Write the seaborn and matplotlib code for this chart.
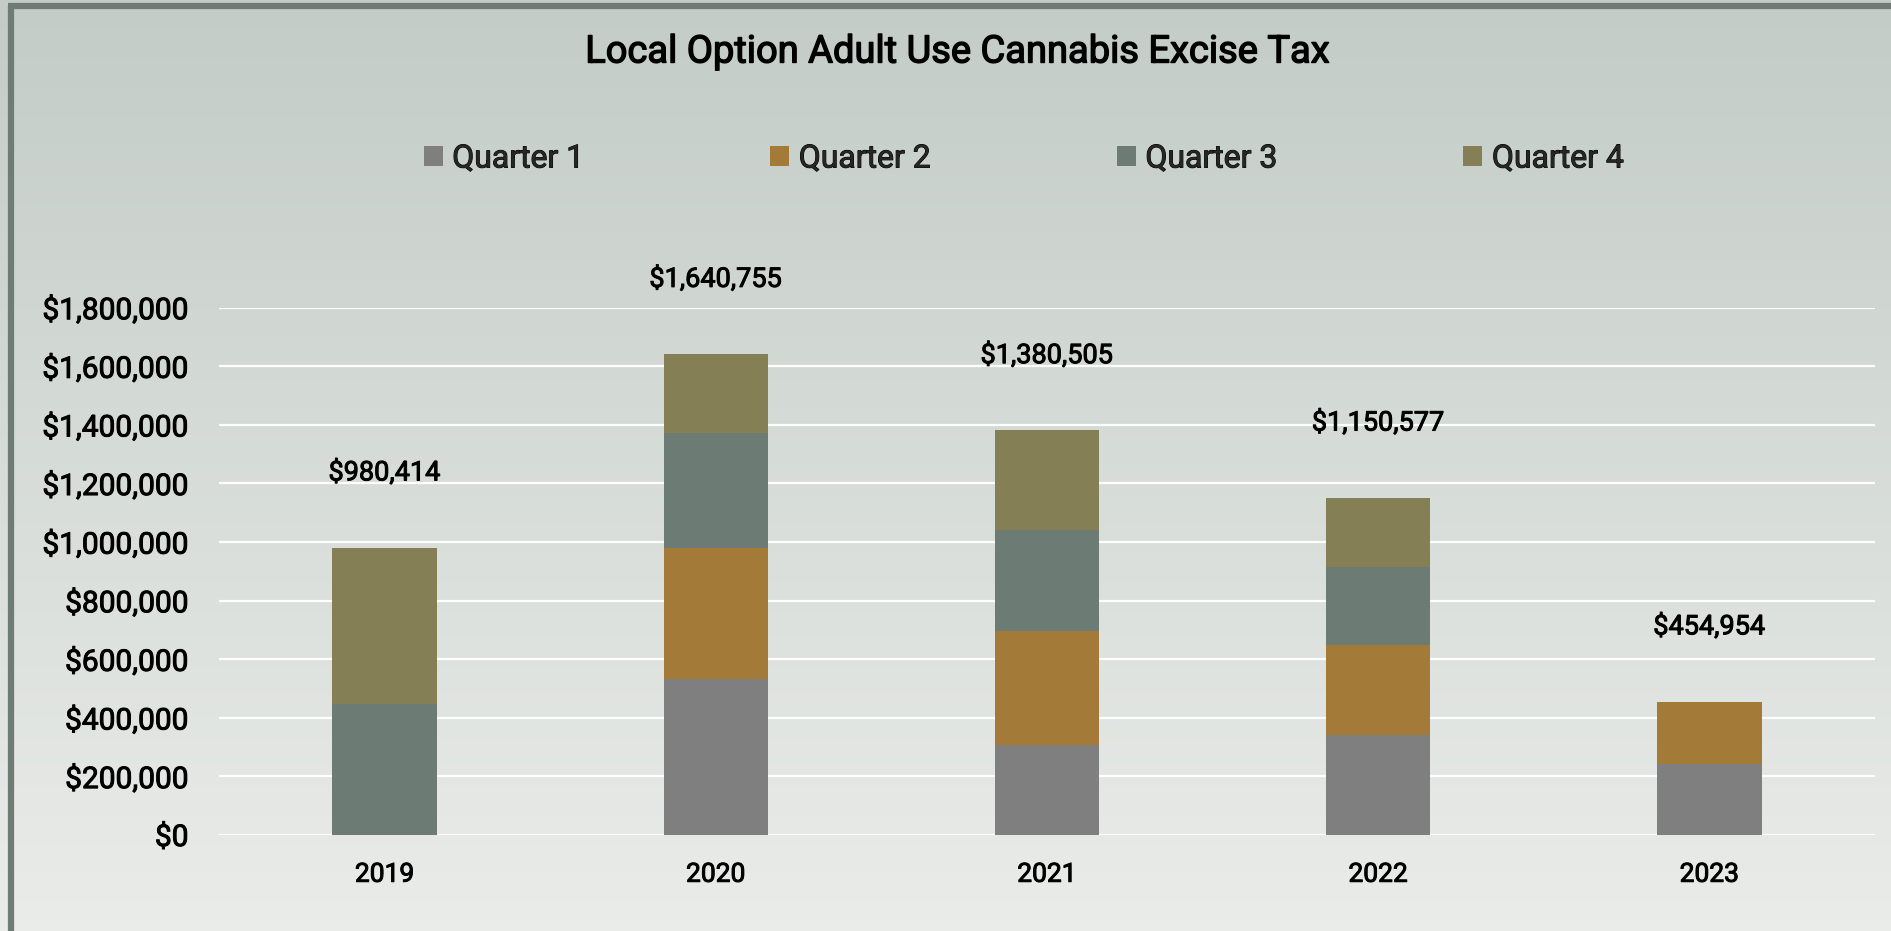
import numpy as np
import pandas as pd
import matplotlib
matplotlib.use("Agg")
import matplotlib.pyplot as plt
import matplotlib.patheffects as pe
import seaborn as sns
from matplotlib.patches import Patch
from matplotlib.ticker import FuncFormatter
from matplotlib.colors import LinearSegmentedColormap

years = ["2019", "2020", "2021", "2022", "2023"]
quarters = ["Quarter 1", "Quarter 2", "Quarter 3", "Quarter 4"]
q1 = [0, 533000, 306000, 341500, 243500]
q2 = [0, 446000, 389500, 306500, 211454]
q3 = [447000, 391500, 346000, 266000, 0]
q4 = [533414, 270255, 339005, 236577, 0]
totals = [980414, 1640755, 1380505, 1150577, 454954]
colors = ["#7f7f7f", "#a47a39", "#6c7b73", "#847f55"]
yticks = [0, 200000, 400000, 600000, 800000, 1000000, 1200000, 1400000, 1600000, 1800000]

sns.set_theme(style="white")
plt.rcParams["font.family"] = ["Roboto", "DejaVu Sans"]

bold_fx = [pe.withStroke(linewidth=0.7, foreground="black")]
title_fx = [pe.withStroke(linewidth=1.0, foreground="black")]

fig = plt.figure(figsize=(18.91, 9.31), dpi=100)

# background gradient
bg = fig.add_axes([0, 0, 1, 1], zorder=-10)
grad = np.linspace(0, 1, 256).reshape(-1, 1)
cmap = LinearSegmentedColormap.from_list("bg", ["#c3ccc7", "#eaecea"])
bg.imshow(grad, aspect="auto", cmap=cmap, extent=[0, 1, 0, 1], origin="upper")
bg.set_xlim(0, 1); bg.set_ylim(0, 1)
bg.axis("off")
bg.plot([8/1891, 1], [1 - 6/931, 1 - 6/931], color="#6e7c74", lw=4.5, solid_capstyle="butt")
bg.plot([11/1891, 11/1891], [0, 1 - 6/931], color="#6e7c74", lw=4.5, solid_capstyle="butt")

ax = fig.add_axes([219/1891, 1 - 835/931, (1875 - 219)/1891, (835 - 307.5)/931])
ax.patch.set_alpha(0)

df = pd.DataFrame({"year": years, "Quarter 1": q1, "Quarter 2": q2,
                   "Quarter 3": q3, "Quarter 4": q4})
cum = df[quarters].cumsum(axis=1)
for i in reversed(range(4)):
    sns.barplot(x=df["year"], y=cum[quarters[i]], color=colors[i], width=0.315,
                saturation=1, ax=ax, zorder=3, linewidth=0)

ax.set_ylim(0, 1800000)
ax.set_yticks(yticks)
ax.yaxis.set_major_formatter(FuncFormatter(lambda v, p: f"${v:,.0f}"))
ax.grid(axis="y", color="white", lw=1.6, zorder=0)
ax.set_axisbelow(True)
for s in ax.spines.values():
    s.set_visible(False)
ax.set_xlabel(""); ax.set_ylabel("")
ax.tick_params(axis="y", length=0, pad=22, labelsize=21.5, labelcolor="black")
ax.tick_params(axis="x", length=0, pad=20, labelsize=19, labelcolor="black")
for lab in ax.get_yticklabels() + ax.get_xticklabels():
    lab.set_path_effects(bold_fx)

for i, t in enumerate(totals):
    ax.annotate(f"${t:,.0f}", xy=(i, t), xytext=(0, 54), textcoords="offset points",
                ha="center", va="center", fontsize=19.5, color="black",
                annotation_clip=False, path_effects=bold_fx)

fig.text(957/1891, 1 - 52/931, "Local Option Adult Use Cannabis Excise Tax",
         ha="center", va="center", fontsize=27.4, color="black", path_effects=title_fx)

handles = [Patch(facecolor=c, edgecolor="none") for c in colors]
leg = fig.legend(handles, quarters, loc="center", bbox_to_anchor=(1024/1891, 1 - 159/931),
                 ncol=4, frameon=False, fontsize=23, handlelength=0.6, handleheight=0.6,
                 handletextpad=0.3, columnspacing=5.8)
for txt in leg.get_texts():
    txt.set_path_effects(bold_fx)

fig.savefig("out.png", dpi=100)
